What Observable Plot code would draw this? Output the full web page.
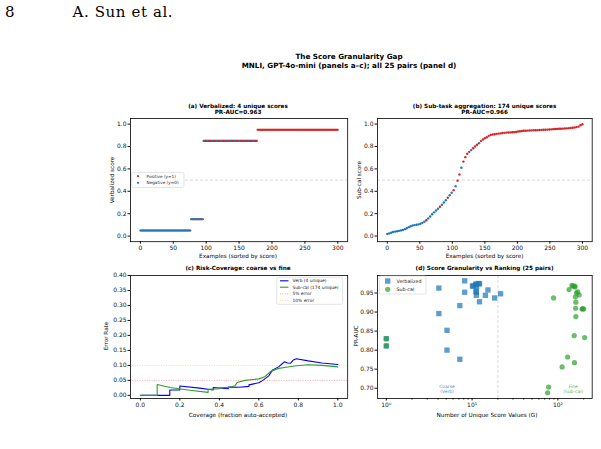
<!DOCTYPE html>
<html><head><meta charset="utf-8">
<script src="https://cdn.jsdelivr.net/npm/d3@7"></script>
<script src="https://cdn.jsdelivr.net/npm/@observablehq/plot@0.6"></script>
<style>
body{margin:0;background:#fff;}
#page{position:relative;width:601px;height:449px;overflow:hidden;background:#fff;font-family:"DejaVu Sans",sans-serif;color:#000}
.t{position:absolute;white-space:nowrap;line-height:1.15}
</style></head><body><div id="page"></div><script>
// ---------- DATA ----------
// (a) Verbalized: 4 unique score levels, count of examples and positives at each level
const verbLevels = [0.05, 0.15, 0.85, 0.95];
const verbCounts = [77, 19, 82, 123];
const verbPositives = [6, 8, 70, 123];

// (b) Sub-cal scores of the sorted examples (every 3rd example) and labels (p = positive)
const subIndex = d3.range(0, 301, 3);
const subScores = [0.018,0.024,0.030,0.036,0.040,0.043,0.047,0.051,0.055,0.062,0.070,0.080,0.088,0.094,0.098,0.101,0.105,0.110,0.118,0.128,
0.142,0.158,0.175,0.195,0.212,0.228,0.245,0.262,0.280,0.300,0.320,0.342,0.365,0.387,0.410,0.446,0.495,0.550,0.610,0.665,
0.705,0.735,0.752,0.768,0.785,0.800,0.815,0.830,0.848,0.862,0.873,0.882,0.895,0.903,0.907,0.910,0.913,0.915,0.917,0.920,
0.922,0.924,0.925,0.926,0.927,0.928,0.930,0.934,0.936,0.938,0.940,0.941,0.942,0.943,0.944,0.945,0.945,0.946,0.947,0.948,
0.949,0.950,0.951,0.952,0.953,0.955,0.956,0.957,0.958,0.959,0.960,0.961,0.962,0.964,0.966,0.968,0.970,0.973,0.977,0.990,0.998];
const subLabels = "nnnnnnnnnnnnnnnnnnnnpnnnn" + "nnpnnnpnn" + "pnppnpp" + "ppnpppnppp" + "pppppppppppppppppppppppppppppppppppppppppppppppppp";

// (c) Risk-coverage curves
const verbCov = [0, 0.149, 0.149, 0.20, 0.20, 0.30, 0.369, 0.369, 0.445, 0.445, 0.50, 0.55, 0.55, 0.60, 0.62, 0.65, 0.67, 0.70, 0.73, 0.745, 0.76, 0.775, 0.79, 0.85, 0.92, 1.0];
const verbErr = [0, 0, 0.018, 0.018, 0.031, 0.024, 0.018, 0.026, 0.022, 0.028, 0.027, 0.030, 0.035, 0.042, 0.050, 0.065, 0.085, 0.095, 0.112, 0.108, 0.107, 0.118, 0.122, 0.115, 0.108, 0.103];
const subCov = [0, 0.085, 0.085, 0.15, 0.25, 0.343, 0.343, 0.40, 0.40, 0.45, 0.48, 0.49, 0.53, 0.56, 0.60, 0.63, 0.66, 0.70, 0.73, 0.78, 0.85, 0.92, 1.0];
const subErr = [0, 0, 0.036, 0.026, 0.017, 0.010, 0.020, 0.022, 0.025, 0.027, 0.032, 0.043, 0.050, 0.052, 0.055, 0.062, 0.080, 0.090, 0.093, 0.098, 0.102, 0.100, 0.095];
const errThresholds = [0.05, 0.10];

// (d) Granularity vs PR-AUC, 25 pairs
const verbG = [1, 1, 4.1, 4.1, 5.1, 5.1, 7.2, 7.2, 8.2, 8.2, 10.1, 11.2, 11.2, 11.2, 11.3, 12.2, 12.2, 14.3, 15.3, 18.3, 21.5, 10.3, 11.0, 12.0, 11.1];
const verbAUC = [0.830, 0.811, 0.963, 0.896, 0.852, 0.800, 0.917, 0.776, 0.982, 0.952, 0.968, 0.974, 0.952, 0.944, 0.966, 0.974, 0.927, 0.944, 0.958, 0.937, 0.948, 0.969, 0.972, 0.975, 0.955];
const subG = [1, 1, 89, 78, 76, 112, 130, 135, 146, 155, 156, 157, 160, 161, 162, 162, 170, 177, 191, 200, 205, 150, 158, 195, 165];
const subAUC = [0.830, 0.811, 0.937, 0.703, 0.688, 0.756, 0.782, 0.959, 0.970, 0.838, 0.767, 0.968, 0.940, 0.910, 0.888, 0.926, 0.953, 0.945, 0.908, 0.908, 0.833, 0.968, 0.966, 0.909, 0.950];
const granularityCut = 20;

// ---------- BUILD ----------
const BLUE = "#1f77b4", RED = "#d62728", GREEN = "#2ca02c";
const page = document.getElementById("page");

function txt(s, x, y, o = {}) {
  const d = document.createElement("div");
  d.className = "t";
  d.innerHTML = s;
  d.style.left = x + "px"; d.style.top = y + "px";
  d.style.fontSize = (o.size || 5.6) + "px";
  d.style.fontWeight = o.bold ? "bold" : "normal";
  if (o.family) d.style.fontFamily = o.family;
  if (o.color) d.style.color = o.color;
  if (o.ls) d.style.letterSpacing = o.ls;
  const ax = o.anchor === "start" ? "0" : o.anchor === "end" ? "-100%" : "-50%";
  d.style.transform = `translate(${ax},-50%)` + (o.rotate ? ` rotate(${o.rotate}deg)` : "");
  page.appendChild(d);
}

const FS = 6;
function panel(frame, scales, marks) {
  const ML = 26, MR = 8, MT = 6, MB = 14;
  const w = frame.r - frame.l + ML + MR, h = frame.b - frame.t + MT + MB;
  const svg = Plot.plot({
    width: w, height: h, marginLeft: ML, marginRight: MR, marginTop: MT, marginBottom: MB,
    x: scales.x, y: scales.y,
    style: {fontFamily: "DejaVu Sans", fontSize: FS + "px", color: "#111", background: "transparent", overflow: "visible", maxWidth: "none"},
    marks
  });
  svg.style.position = "absolute";
  svg.style.left = (frame.l - ML) + "px";
  svg.style.top = (frame.t - MT) + "px";
  page.appendChild(svg);
}
function axX(ticks, fmt, extra = {}) {
  return Plot.axisX({ticks, tickFormat: fmt, tickSize: 2.5, tickPadding: 1.5, label: null, fontSize: FS, ...extra});
}
function axY(ticks, fmt) {
  return Plot.axisY({ticks, tickFormat: fmt, tickSize: 2.5, tickPadding: 1.5, label: null, fontSize: FS});
}
const frameMark = () => Plot.frame({stroke: "#000", strokeWidth: 0.8});
const refLine = () => Plot.ruleY([0.5], {stroke: "#c8c8c8", strokeDasharray: "3,2", strokeWidth: 0.7});

// legend helper
function legendBox(x0, y0, x1, y1, items, fs) {
  const svg = d3.create("svg").attr("width", 601).attr("height", 449)
    .style("position", "absolute").style("left", 0).style("top", 0).style("pointer-events", "none");
  svg.append("rect").attr("x", x0).attr("y", y0).attr("width", x1 - x0).attr("height", y1 - y0)
    .attr("rx", 1.5).attr("fill", "#fff").attr("fill-opacity", 0.85).attr("stroke", "#d0d0d0").attr("stroke-width", 0.6);
  for (const it of items) {
    if (it.type === "dot") svg.append("circle").attr("cx", it.sx).attr("cy", it.y).attr("r", it.r).attr("fill", it.color).attr("fill-opacity", it.op || 1);
    if (it.type === "square") svg.append("rect").attr("x", it.sx - it.r).attr("y", it.y - it.r).attr("width", 2 * it.r).attr("height", 2 * it.r).attr("fill", it.color).attr("fill-opacity", it.op || 1);
    if (it.type === "line") svg.append("line").attr("x1", it.sx).attr("x2", it.ex).attr("y1", it.y).attr("y2", it.y)
      .attr("stroke", it.color).attr("stroke-width", it.w || 1).attr("stroke-dasharray", it.dash || null).attr("stroke-opacity", it.op || 1);
    svg.append("text").attr("x", it.tx).attr("y", it.y).attr("dy", "0.35em").attr("font-size", fs)
      .attr("font-family", "DejaVu Sans").attr("fill", "#222").text(it.label);
  }
  page.appendChild(svg.node());
}

// header
txt("8", 5, 13, {size: 15, family: "DejaVu Serif", anchor: "start"});
txt("A. Sun et al.", 72.5, 13, {size: 15, family: "DejaVu Serif", anchor: "start", ls: "0.6px"});

// figure title
txt("The Score Granularity Gap", 349, 57.3, {size: 7.2, bold: true});
txt("MNLI, GPT-4o-mini (panels a–c); all 25 pairs (panel d)", 349, 65.8, {size: 7.2, bold: true});

// ----- panel (a)
const verbPoints = [];
let idx = 0;
verbLevels.forEach((s, i) => {
  const n = verbCounts[i], p = verbPositives[i];
  for (let j = 0; j < n; j++) {
    const pos = Math.floor((j + 1) * p / n) > Math.floor(j * p / n);
    verbPoints.push({i: idx++, s, y: pos ? 1 : 0});
  }
});
const fA = {l: 129.5, r: 346.7, t: 118.4, b: 241.6};
panel(fA, {x: {domain: [-15, 315]}, y: {domain: [-0.05, 1.05]}}, [
  refLine(),
  Plot.dot(verbPoints.filter(d => d.y === 1), {x: "i", y: "s", r: 1.05, fill: RED, stroke: null}),
  Plot.dot(verbPoints.filter(d => d.y === 0), {x: "i", y: "s", r: 1.05, fill: BLUE, stroke: null}),
  axX(d3.range(0, 301, 50), d3.format("d")),
  axY(d3.range(0, 1.01, 0.2), d3.format(".1f")),
  frameMark()
]);
txt("(a) Verbalized: 4 unique scores", 238, 105.6, {size: 5.7, bold: true});
txt("PR-AUC=0.963", 238, 111.7, {size: 5.7, bold: true});
txt("Verbalized score", 111.5, 180, {size: 5.7, rotate: -90});
txt("Examples (sorted by score)", 238, 256, {size: 5.7});
legendBox(131.7, 172.3, 184, 187.5, [
  {type: "dot", sx: 138, y: 176.2, r: 1.1, color: RED, tx: 146.5, label: "Positive (y=1)"},
  {type: "dot", sx: 138, y: 182.8, r: 1.1, color: BLUE, tx: 146.5, label: "Negative (y=0)"}
], 4.2);

// ----- panel (b)
const subPoints = subIndex.map((i, k) => ({i, s: subScores[k], y: subLabels[k] === "p" ? 1 : 0}));
const fB = {l: 377.3, r: 592, t: 118.4, b: 241.6};
panel(fB, {x: {domain: [-15, 315]}, y: {domain: [-0.05, 1.05]}}, [
  refLine(),
  Plot.dot(subPoints.filter(d => d.y === 1), {x: "i", y: "s", r: 1.2, fill: RED, stroke: null}),
  Plot.dot(subPoints.filter(d => d.y === 0), {x: "i", y: "s", r: 1.2, fill: BLUE, stroke: null}),
  axX(d3.range(0, 301, 50), d3.format("d")),
  axY(d3.range(0, 1.01, 0.2), d3.format(".1f")),
  frameMark()
]);
txt("(b) Sub-task aggregation: 174 unique scores", 484.6, 105.6, {size: 5.7, bold: true});
txt("PR-AUC=0.966", 484.6, 111.7, {size: 5.7, bold: true});
txt("Sub-cal score", 359, 180, {size: 5.7, rotate: -90});
txt("Examples (sorted by score)", 484.6, 256, {size: 5.7});

// ----- panel (c)
const verbCurve = verbCov.map((c, k) => ({c, e: verbErr[k]}));
const subCurve = subCov.map((c, k) => ({c, e: subErr[k]}));
const fC = {l: 129.5, r: 346.7, t: 274.7, b: 397.7};
panel(fC, {x: {domain: [-0.05, 1.05]}, y: {domain: [-0.0105, 0.40]}}, [
  Plot.ruleY([errThresholds[0]], {stroke: "red", strokeOpacity: 0.45, strokeDasharray: "1,1.4", strokeWidth: 0.8}),
  Plot.ruleY([errThresholds[1]], {stroke: "orange", strokeOpacity: 0.55, strokeDasharray: "1,1.4", strokeWidth: 0.8}),
  Plot.line(verbCurve, {x: "c", y: "e", stroke: "#0000ff", strokeWidth: 1.1}),
  Plot.line(subCurve, {x: "c", y: "e", stroke: GREEN, strokeWidth: 1.1}),
  axX(d3.range(0, 1.01, 0.2), d3.format(".1f")),
  axY(d3.range(0, 0.401, 0.05), d3.format(".2f")),
  frameMark()
]);
txt("(c) Risk-Coverage: coarse vs fine", 238, 267.6, {size: 5.7, bold: true});
txt("Error Rate", 106, 336, {size: 5.7, rotate: -90});
txt("Coverage (fraction auto-accepted)", 238, 415.3, {size: 5.7});
legendBox(276.7, 277.3, 342.7, 304.3, [
  {type: "line", sx: 280, ex: 288.5, y: 280.8, color: "#0000ff", w: 1.1, tx: 292.5, label: "Verb (4 unique)"},
  {type: "line", sx: 280, ex: 288.5, y: 287.2, color: GREEN, w: 1.1, tx: 292.5, label: "Sub-cal (174 unique)"},
  {type: "line", sx: 280, ex: 288.5, y: 293.8, color: "red", w: 0.8, op: 0.45, dash: "1,1.4", tx: 292.5, label: "5% error"},
  {type: "line", sx: 280, ex: 288.5, y: 300.4, color: "orange", w: 0.8, op: 0.55, dash: "1,1.4", tx: 292.5, label: "10% error"}
], 4.4);

// ----- panel (d)
const verbPairs = verbG.map((g, k) => ({g, a: verbAUC[k]}));
const subPairs = subG.map((g, k) => ({g, a: subAUC[k]}));
const fD = {l: 377.3, r: 592, t: 274.7, b: 397.7};
const sup = {0: "⁰", 1: "¹", 2: "²"};
panel(fD, {x: {type: "log", domain: [0.79, 251]}, y: {domain: [0.673, 0.996]}}, [
  Plot.ruleX([granularityCut], {stroke: "#c8c8c8", strokeDasharray: "3,2", strokeWidth: 0.7}),
  Plot.dot(verbPairs, {x: "g", y: "a", symbol: "square", r: 3.0, fill: BLUE, fillOpacity: 0.72, stroke: null}),
  Plot.dot(subPairs, {x: "g", y: "a", symbol: "circle", r: 2.6, fill: GREEN, fillOpacity: 0.7, stroke: null}),
  Plot.text(["Coarse\n(Verb)"], {x: 5.1, y: 0.697, text: d => d, fill: BLUE, fillOpacity: 0.85, fontSize: 4.5, lineHeight: 1.1}),
  Plot.text(["Fine\n(Sub-cal)"], {x: 151, y: 0.697, text: d => d, fill: GREEN, fillOpacity: 0.85, fontSize: 4.5, lineHeight: 1.1}),
  axX([1, 10, 100], d => "10" + sup[Math.round(Math.log10(d))]),
  axX([2,3,4,5,6,7,8,9,20,30,40,50,60,70,80,90,200], null, {tickSize: 1.5, text: null}),
  axY(d3.range(0.70, 0.951, 0.05), d3.format(".2f")),
  frameMark()
]);
txt("(d) Score Granularity vs Ranking (25 pairs)", 484.6, 267.6, {size: 5.7, bold: true});
txt("PR-AUC", 356.3, 336, {size: 5.7, rotate: -90});
txt("Number of Unique Score Values (G)", 487, 415.3, {size: 5.7});
legendBox(379.3, 276, 426, 294, [
  {type: "square", sx: 387.7, y: 281, r: 2.7, color: BLUE, op: 0.72, tx: 396.5, label: "Verbalized"},
  {type: "dot", sx: 387.7, y: 289.3, r: 2.6, color: GREEN, op: 0.7, tx: 396.5, label: "Sub-cal"}
], 4.8);
</script></body></html>
